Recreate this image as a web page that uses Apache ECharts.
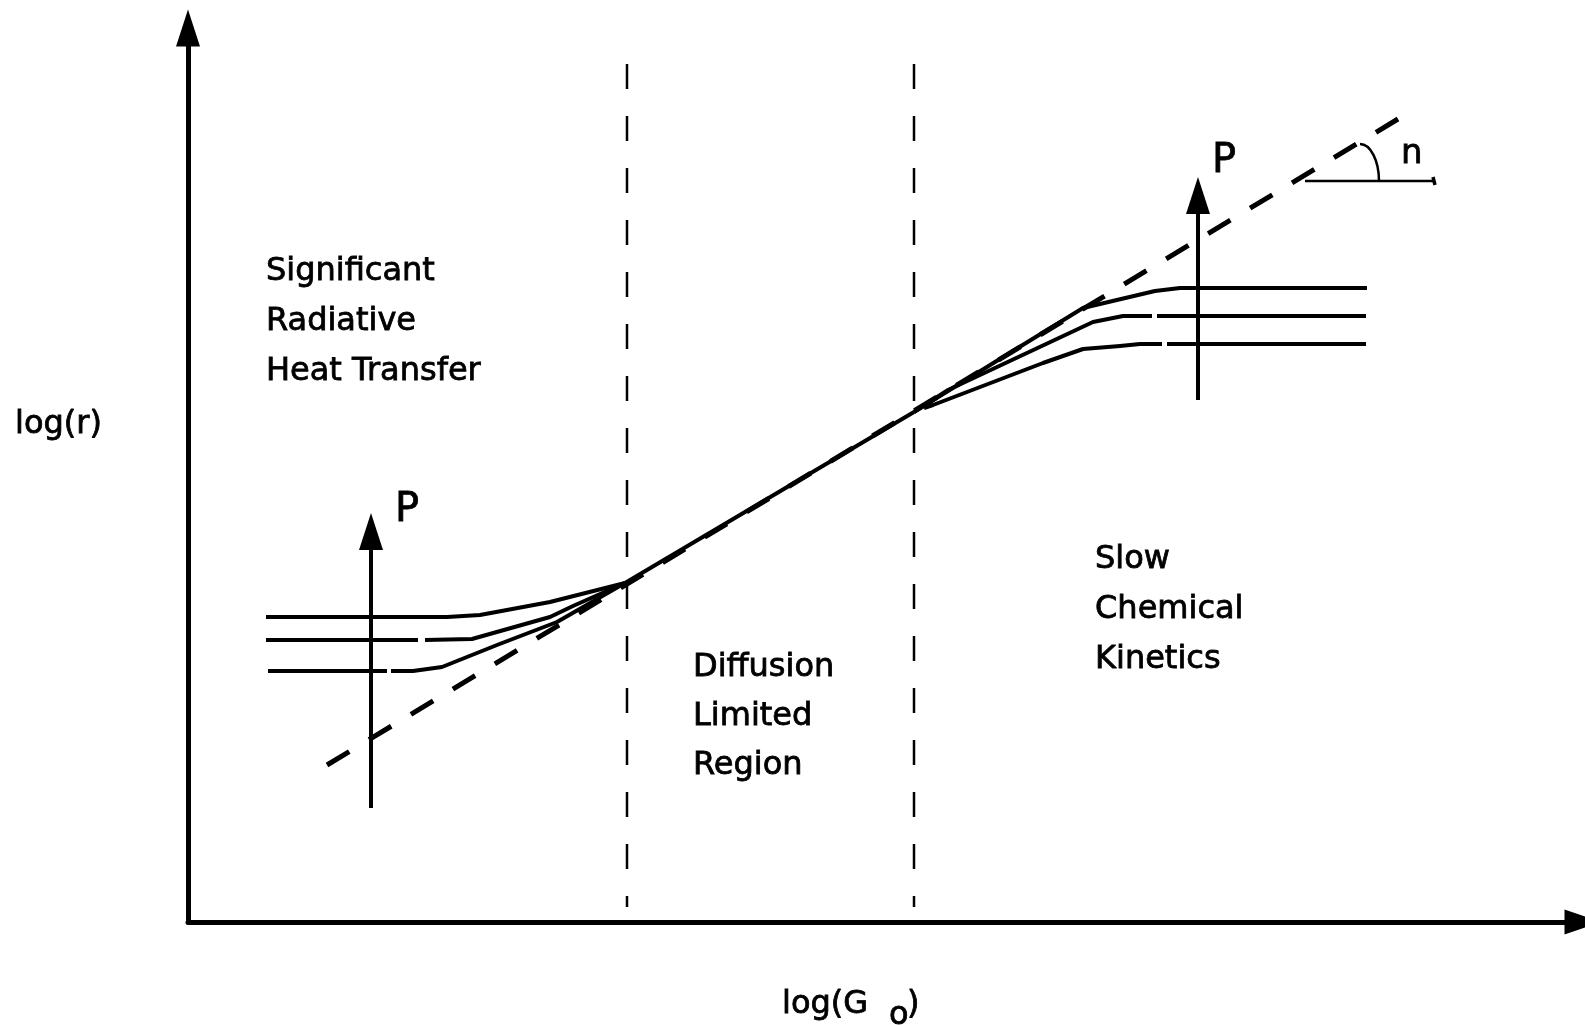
<!DOCTYPE html>
<html>
<head>
<meta charset="utf-8">
<script src="https://cdn.jsdelivr.net/npm/echarts@6/dist/echarts.min.js"></script>
<style>
html,body{margin:0;padding:0;background:#fff;}
#chart{width:1585px;height:1025px;}
</style>
</head>
<body>
<div id="chart"></div>
<script>
// ---- data (x = log(Go), y = log(r), arbitrary schematic units) ----
const leftTop  = [[78,305],[259,305],[292,307],[362,320],[437,339]];
const leftMid  = [[78,282],[230,282],null,[237,282],[284,283],[362,305],[385,316],[437,339]];
const leftBot  = [[80,251],[199,251],null,[203,251],[225,251],[254,255],[309,277],[369,300],[437,339]];
const centre   = [[437,339],[726,510]];
const rightTop = [[726,510],[807,560],[895,614],[967,631],[992,634],[1179,634]];
const rightMid = [[726,510],[760,532],[905,600],[935,606],[964,606],null,[969,606],[1178,606]];
const rightBot = [[736,514],[745,517],[855,559],[895,573],[932,576],[952,578],[974,578],null,[979,578],[1178,578]];
const asymptote = [[139,157],[1210,803]];
const boundaryX = [439, 726];
const boundaryY = [858, 15];
const pArrows = [[183,114,409],[1010,522,745]];      // x, from y, to y
const slopeBase = [[1117,741],[1246,741]];
const slopeArc = [[1172,778],[1182.5,778],[1191,761.4],[1191,741]];

// split arrays with null breaks into segments
function segments(arr){
  const out=[]; let cur=[];
  arr.forEach(p=>{ if(p===null){ if(cur.length) out.push(cur); cur=[]; } else cur.push(p); });
  if(cur.length) out.push(cur);
  return out;
}

const series = [];
function solid(arr){
  segments(arr).forEach(seg=>{
    series.push({type:'line', data:seg, showSymbol:false, symbol:'none', silent:true,
      lineStyle:{color:'#000', width:4, cap:'butt', join:'round'}, z:3});
  });
}
[leftTop,leftMid,leftBot,centre,rightTop,rightMid,rightBot].forEach(solid);

series.push({type:'line', data:asymptote, showSymbol:false, symbol:'none', silent:true,
  lineStyle:{color:'#000', width:5, type:[26,23], cap:'butt'}, z:4});

boundaryX.forEach(x=>{
  series.push({type:'line', data:[[x,boundaryY[0]],[x,boundaryY[1]]], showSymbol:false, symbol:'none', silent:true,
    lineStyle:{color:'#000', width:2.5, type:[25,27], cap:'butt'}, z:2});
});

series.push({type:'custom', data:pArrows, silent:true, z:5,
  renderItem:function(params, api){
    const x=api.value(0), y0=api.value(1), y1=api.value(2);
    const a=api.coord([x,y0]), b=api.coord([x,y1]);
    const headL=37, headW=24;
    return {type:'group', children:[
      {type:'line', shape:{x1:a[0],y1:a[1],x2:b[0],y2:b[1]+headL-2}, style:{stroke:'#000', lineWidth:4}},
      {type:'polygon', shape:{points:[[b[0],b[1]],[b[0]-headW/2,b[1]+headL],[b[0]+headW/2,b[1]+headL]]}, style:{fill:'#000'}}
    ]};
  }
});

series.push({type:'custom', data:[0], silent:true, z:5,
  renderItem:function(params, api){
    const s=api.coord(slopeBase[0]), e=api.coord(slopeBase[1]);
    const p=slopeArc.map(q=>api.coord(q));
    return {type:'group', children:[
      {type:'line', shape:{x1:s[0],y1:s[1],x2:e[0],y2:e[1]}, style:{stroke:'#000', lineWidth:2.5}},
      {type:'line', shape:{x1:e[0]-1,y1:e[1]-4,x2:e[0]+1,y2:e[1]+4}, style:{stroke:'#000', lineWidth:3.5}},
      {type:'bezierCurve', shape:{x1:p[0][0],y1:p[0][1],cpx1:p[1][0],cpy1:p[1][1],cpx2:p[2][0],cpy2:p[2][1],x2:p[3][0],y2:p[3][1]},
        style:{stroke:'#000', lineWidth:2.5, fill:null}}
    ]};
  }
});

const F = '"DejaVu Sans", "Noto Sans", sans-serif';
function txt(t,x,y,size){
  return {type:'text', silent:true, z:10, style:{text:t, x:x, y:y, fill:'#000',
    stroke:'#000', lineWidth:0.8,
    font:(size||32)+'px '+F, textAlign:'left', textVerticalAlign:'middle'}};
}

const option = {
  backgroundColor:'#fff',
  animation:false,
  grid:{left:188, right:2, top:28, bottom:103},
  xAxis:{type:'value', min:0, max:1395,
    axisLine:{show:true, symbol:['none','triangle'], symbolSize:[25,37], lineStyle:{color:'#000', width:5}},
    axisTick:{show:false}, axisLabel:{show:false}, splitLine:{show:false}},
  yAxis:{type:'value', min:0, max:894,
    axisLine:{show:true, symbol:['none','triangle'], symbolSize:[24,37], lineStyle:{color:'#000', width:5}},
    axisTick:{show:false}, axisLabel:{show:false}, splitLine:{show:false}},
  series:series,
  graphic:[
    txt('Significant',266,272), txt('Radiative',266,322), txt('Heat Transfer',266,372),
    txt('Diffusion',693,668), txt('Limited',693,717), txt('Region',693,766),
    txt('Slow',1095,560), txt('Chemical',1095,610), txt('Kinetics',1095,660),
    txt('log(r)',15,425),
    txt('log(G',782,1005), txt('o',889,1016), txt(')',907,1005),
    txt('P',395,511,40), txt('P',1212,162,40),
    txt('n',1401,154,34)
  ]
};
const chart = echarts.init(document.getElementById('chart'), null, {renderer:'canvas'});
chart.setOption(option);
</script>
</body>
</html>
